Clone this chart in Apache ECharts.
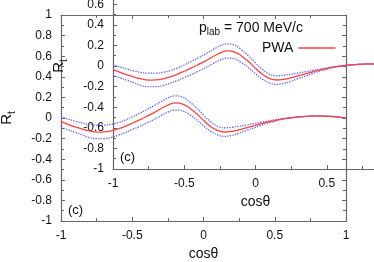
<!DOCTYPE html>
<html>
<head>
<meta charset="utf-8">
<script src="https://cdn.jsdelivr.net/npm/echarts@6/dist/echarts.min.js"></script>
<style>html,body{margin:0;padding:0;background:#fff;}#c{width:374px;height:262px;}</style>
</head>
<body>
<div id="c"></div>
<script>
var cosTheta = [-1,-0.95,-0.9,-0.85,-0.8,-0.75,-0.7,-0.65,-0.6,-0.55,-0.5,-0.45,-0.4,-0.35,-0.3,-0.25,-0.2,-0.15,-0.1,-0.05,0,0.05,0.1,0.15,0.2,0.25,0.3,0.35,0.4,0.45,0.5,0.55,0.6,0.65,0.7,0.75,0.8,0.85,0.9,0.95,1];
var pwa = [-0.035,-0.062,-0.087,-0.108,-0.126,-0.137,-0.135,-0.125,-0.106,-0.081,-0.051,-0.019,0.015,0.05,0.09,0.125,0.146,0.138,0.1,0.043,-0.022,-0.082,-0.122,-0.136,-0.129,-0.114,-0.095,-0.077,-0.058,-0.04,-0.025,-0.01,0.0,0.008,0.014,0.018,0.02,0.019,0.015,0.008,0.0];
var upper = [0.015,-0.01,-0.03,-0.05,-0.063,-0.07,-0.07,-0.062,-0.045,-0.02,0.01,0.045,0.08,0.117,0.157,0.195,0.215,0.205,0.16,0.1,0.03,-0.035,-0.08,-0.095,-0.09,-0.08,-0.068,-0.056,-0.043,-0.03,-0.018,-0.007,0.002,0.009,0.015,0.019,0.021,0.02,0.016,0.009,0.001];
var lower = [-0.09,-0.115,-0.14,-0.165,-0.19,-0.2,-0.2,-0.19,-0.168,-0.142,-0.112,-0.083,-0.05,-0.017,0.022,0.057,0.077,0.07,0.035,-0.015,-0.075,-0.13,-0.165,-0.178,-0.168,-0.148,-0.122,-0.098,-0.073,-0.05,-0.032,-0.013,-0.002,0.007,0.013,0.017,0.019,0.018,0.014,0.007,-0.001];
var xTicks = {min:-1, max:1, interval:0.5};
var yTicks = {min:-1, max:1, interval:0.2};

function zip(ys){ return cosTheta.map(function(x,i){return [x, ys[i]];}); }

var FONT = 'Liberation Sans';
var frame = {show:true, onZero:false, lineStyle:{color:'#666', width:1.2}};
var tick = {show:true, inside:true, length:4, lineStyle:{color:'#666'}};
var minor = {show:true, splitNumber:2, length:3, lineStyle:{color:'#666'}};
var lbl = {show:true, fontFamily:FONT, fontSize:12, color:'#111', margin:9};
var rtName = '{a|R}{b|t}';
var rtStyle = {fontFamily:FONT, rich:{a:{fontFamily:FONT,fontSize:15,color:'#111',padding:[0,0,5,0]}, b:{fontFamily:FONT,fontSize:10,color:'#111',padding:[6,0,0,0]}}};
var RED = '#ff4040', BLUE = '#5a5aff';

var grids = [
  {left:61, top:15, width:285, height:206, containLabel:false, outerBoundsMode:'none'},
  {left:113, top:-37, width:285, height:206, containLabel:false, outerBoundsMode:'none'}
];
var xAxes = [], yAxes = [], series = [];
grids.forEach(function(g, gi){
  xAxes.push({type:'value', gridIndex:gi, position:'bottom', min:xTicks.min, max:xTicks.max, interval:xTicks.interval,
    axisLine:frame, axisTick:tick, minorTick:minor, splitLine:{show:false}, axisLabel:lbl,
    name:'cosθ', nameLocation:'middle', nameGap:25, nameTextStyle:{fontFamily:FONT, fontSize:14, color:'#111'}});
  xAxes.push({type:'value', gridIndex:gi, position:'top', min:xTicks.min, max:xTicks.max, interval:xTicks.interval,
    axisLine:frame, axisTick:tick, minorTick:minor, splitLine:{show:false}, axisLabel:{show:false}});
  yAxes.push({type:'value', gridIndex:gi, position:'left', min:yTicks.min, max:yTicks.max, interval:yTicks.interval,
    axisLine:frame, axisTick:tick, minorTick:minor, splitLine:{show:false}, axisLabel:lbl,
    name:rtName, nameLocation:'middle', nameGap:42, nameTextStyle:rtStyle});
  yAxes.push({type:'value', gridIndex:gi, position:'right', min:yTicks.min, max:yTicks.max, interval:yTicks.interval,
    axisLine:frame, axisTick:tick, minorTick:minor, splitLine:{show:false}, axisLabel:{show:false}});
  var xi = gi*2, yi = gi*2;
  [['upper', upper], ['lower', lower]].forEach(function(b){
    series.push({type:'line', name:b[0]+gi, xAxisIndex:xi, yAxisIndex:yi, data:zip(b[1]), symbol:'none', smooth:0.4,
      itemStyle:{color:BLUE}, lineStyle:{color:BLUE, width:1.3, type:'dotted'}, silent:true, z:2});
  });
  series.push({type:'line', name:'PWA', xAxisIndex:xi, yAxisIndex:yi, data:zip(pwa), symbol:'none', smooth:0.4,
    itemStyle:{color:RED}, lineStyle:{color:RED, width:1.3}, silent:true, z:3});
});

var chart = echarts.init(document.getElementById('c'), null, {renderer:'canvas'});
chart.setOption({
  animation:false,
  backgroundColor:'#fff',
  grid:grids, xAxis:xAxes, yAxis:yAxes, series:series,
  legend:{data:[{name:'PWA', icon:'rect', itemStyle:{color:RED}}], left:262, top:41, padding:0, align:'right', itemWidth:37, itemHeight:1.5, itemGap:5,
    textStyle:{fontFamily:FONT, fontSize:14, color:'#111'}, selectedMode:false},
  graphic:[
    {type:'text', left:199, top:21, style:{text:'{a|p}{b|lab}{a| = 700 MeV/c}', rich:{a:{fontFamily:FONT,fontSize:14,fill:'#111',padding:[0,0,3,0]}, b:{fontFamily:FONT,fontSize:10,fill:'#111',padding:[6,0,0,0]}}}},
    {type:'text', left:68, top:204, style:{text:'(c)', fontFamily:FONT, fontSize:13, fill:'#111'}},
    {type:'text', left:120, top:151, style:{text:'(c)', fontFamily:FONT, fontSize:13, fill:'#111'}}
  ]
});
</script>
</body>
</html>
